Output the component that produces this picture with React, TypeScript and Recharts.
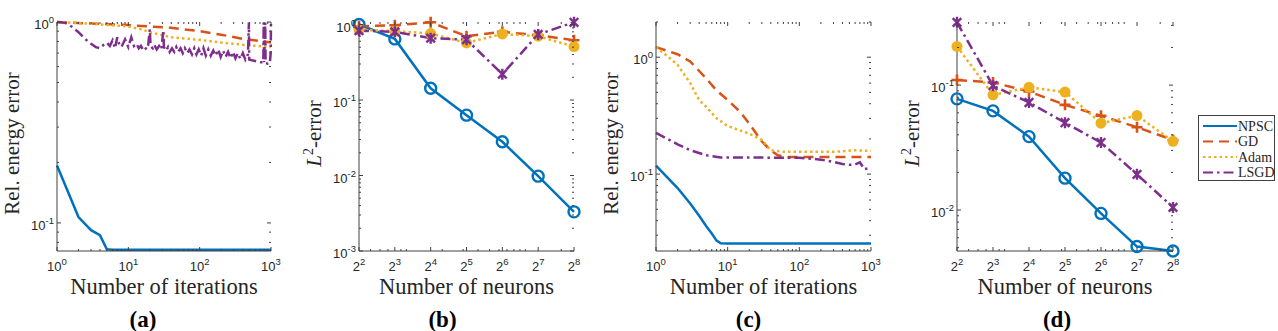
import { LineChart, Line, XAxis, YAxis } from "recharts";

const BLUE = "#0072BD";
const RED = "#D95319";
const YEL = "#EDB120";
const PUR = "#7E2F8E";
const AX = "#404040";
const TXT = "#262626";
const SANS = "'Liberation Sans', Arial, sans-serif";
const SERIF = "'Liberation Serif', 'Times New Roman', serif";

// ---- (a) relative energy error vs iterations ----
const npscAx = [1, 2, 3, 4, 5, 6, 8, 10, 100, 1000];
const npscAy = [0.193, 0.107, 0.092, 0.087, 0.074, 0.0735, 0.0735, 0.0735, 0.0735, 0.0735];
const gdAx = [1, 10, 20, 35, 100, 200, 400, 800, 1000];
const gdAy = [1.0, 0.965, 0.95, 0.94, 0.9, 0.865, 0.825, 0.8, 0.79];
const adamAx = [1, 3, 10, 15, 20, 40, 100, 200, 500, 1000];
const adamAy = [1.0, 0.98, 0.95, 0.92, 0.89, 0.84, 0.815, 0.79, 0.765, 0.75];
const lsgdAx = [1, 1.3, 1.6, 2, 2.5, 3, 3.5, 4, 4.5, 5, 5.5, 6, 6.5, 7, 7.5, 8, 9, 10, 11, 12,
  13, 14, 15, 16, 17, 18, 19, 20, 20.5, 22, 23, 25, 27, 29, 31, 31.5, 34, 36, 38, 41,
  44, 47, 50, 54, 58, 62, 67, 72, 78, 84, 90, 97, 105, 113, 122, 132, 143, 155, 168, 182,
  197, 213, 231, 250, 271, 293, 317, 343, 372, 403, 437, 475, 490, 495, 540, 600, 660, 720, 780, 790,
  800, 830, 840, 900, 960, 990, 1000];
const lsgdAy = [1.0, 0.99, 0.95, 0.89, 0.82, 0.78, 0.75, 0.74, 0.77, 0.79, 0.76, 0.81, 0.74, 0.84, 0.77, 0.75, 0.82, 0.75, 0.84, 0.76,
  0.78, 0.74, 0.76, 0.73, 0.75, 0.73, 0.77, 0.92, 0.76, 0.74, 0.77, 0.73, 0.76, 0.73, 0.91, 0.75, 0.72, 0.75, 0.71, 0.74,
  0.71, 0.75, 0.71, 0.74, 0.7, 0.74, 0.7, 0.73, 0.69, 0.74, 0.69, 0.73, 0.68, 0.74, 0.68, 0.73, 0.68, 0.72, 0.68, 0.73,
  0.67, 0.72, 0.67, 0.71, 0.66, 0.71, 0.66, 0.7, 0.655, 0.7, 0.65, 0.69, 0.995, 0.65, 0.645, 0.64, 0.635, 0.63, 0.63, 0.995,
  0.63, 0.995, 0.625, 0.62, 0.62, 0.7, 0.995];

// ---- (b) L2 error vs neurons ----
const neurons = [4, 8, 16, 32, 64, 128, 256];
const npscB = [1.0, 0.645, 0.143, 0.063, 0.028, 0.0098, 0.0033];
const gdB = [0.95, 0.98, 1.07, 0.7, 0.8, 0.72, 0.62];
const adamB = [0.85, 0.82, 0.76, 0.57, 0.75, 0.7, 0.51];
const lsgdB = [0.83, 0.8, 0.66, 0.63, 0.22, 0.74, 1.07];

// ---- (c) relative energy error vs iterations ----
const npscCx = [1, 2, 3, 4, 5, 6, 7, 8, 10, 100, 1000];
const npscCy = [0.118, 0.076, 0.056, 0.044, 0.036, 0.031, 0.027, 0.0256, 0.0255, 0.0255, 0.0255];
const gdCx = [1, 2, 3, 5, 7, 10, 15, 20, 30, 40, 50, 70, 100, 200, 500, 1000];
const gdCy = [1.22, 1.06, 0.92, 0.66, 0.52, 0.43, 0.34, 0.27, 0.19, 0.16, 0.145, 0.14, 0.14, 0.14, 0.14, 0.14];
const adamCx = [1, 1.5, 2, 3, 4, 5, 7, 10, 20, 30, 40, 60, 100, 300, 600, 1000];
const adamCy = [1.22, 1.0, 0.86, 0.6, 0.43, 0.377, 0.3, 0.258, 0.222, 0.196, 0.16, 0.155, 0.155, 0.155, 0.16, 0.158];
const lsgdCx = [1, 2, 3, 5, 8, 20, 50, 100, 200, 300, 400, 500, 600, 700, 750, 800, 900, 1000];
const lsgdCy = [0.225, 0.18, 0.16, 0.145, 0.139, 0.139, 0.138, 0.138, 0.133, 0.127, 0.122, 0.12, 0.121, 0.126, 0.118, 0.11, 0.112, 0.113];

// ---- (d) L2 error vs neurons ----
const npscD = [0.0776, 0.0622, 0.0387, 0.018, 0.0094, 0.0051, 0.0047];
const gdD = [0.11, 0.105, 0.089, 0.0695, 0.0568, 0.046, 0.0364];
const adamD = [0.204, 0.0836, 0.096, 0.088, 0.0496, 0.057, 0.0355];
const lsgdD = [0.318, 0.099, 0.0726, 0.05, 0.0347, 0.0193, 0.0105];

// ticks
const iterTicks = [1, 2, 3, 4, 5, 6, 7, 8, 9, 10, 20, 30, 40, 50, 60, 70, 80, 90, 100, 200, 300, 400, 500, 600, 700, 800, 900, 1000];
const iterMajors = [1, 10, 100, 1000];
const neurTicks = [4, 5, 6, 7, 8, 9, 10, 16, 20, 30, 32, 40, 50, 60, 64, 70, 80, 90, 100, 128, 200, 256];
const neurMajors = [4, 8, 16, 32, 64, 128, 256];
const yTicksA = [0.08, 0.09, 0.1, 0.2, 0.3, 0.4, 0.5, 0.6, 0.7, 0.8, 0.9, 1];
const yTicksB = [0.001, 0.002, 0.003, 0.004, 0.005, 0.006, 0.007, 0.008, 0.009, 0.01, 0.02, 0.03, 0.04, 0.05, 0.06, 0.07, 0.08, 0.09,
  0.1, 0.2, 0.3, 0.4, 0.5, 0.6, 0.7, 0.8, 0.9, 1];
const yTicksC = [0.03, 0.04, 0.05, 0.06, 0.07, 0.08, 0.09, 0.1, 0.2, 0.3, 0.4, 0.5, 0.6, 0.7, 0.8, 0.9, 1, 2];
const yTicksD = [0.005, 0.006, 0.007, 0.008, 0.009, 0.01, 0.02, 0.03, 0.04, 0.05, 0.06, 0.07, 0.08, 0.09, 0.1, 0.2, 0.3];
const yMajors = [0.001, 0.01, 0.1, 1];

const legendNames = ["NPSC", "GD", "Adam", "LSGD"];

type Pt = { x: number; y: number };
const pts = (xs: number[], ys: number[]): Pt[] => xs.map((x, i) => ({ x, y: ys[i] }));

const styles = [
  { color: BLUE, dash: undefined, mark: "o" },
  { color: RED, dash: "10 6", mark: "+" },
  { color: YEL, dash: "2.5 3", mark: "dot" },
  { color: PUR, dash: "10 4 2.5 4", mark: "*" },
];

function Marker(props: any) {
  const { cx, cy, kind, color } = props;
  if (cx == null || cy == null) return <g />;
  if (kind === "o") return <circle cx={cx} cy={cy} r={5.5} fill="none" stroke={color} strokeWidth={2.4} />;
  if (kind === "dot") return <circle cx={cx} cy={cy} r={5.5} fill={color} />;
  if (kind === "+")
    return <path d={`M${cx - 5.5},${cy}H${cx + 5.5}M${cx},${cy - 5.5}V${cy + 5.5}`} stroke={color} strokeWidth={2.6} />;
  const s = 4.3;
  return (
    <path
      d={`M${cx - s},${cy - s}L${cx + s},${cy + s}M${cx - s},${cy + s}L${cx + s},${cy - s}M${cx},${cy - 5.5}V${cy + 5.5}`}
      stroke={color}
      strokeWidth={2.4}
    />
  );
}

function YTick(props: any) {
  const { x, y, payload, plotW, majors } = props;
  const v = payload.value;
  const major = majors.includes(v);
  const len = major ? 4 : 2;
  return (
    <g>
      <line x1={x} x2={x + len} y1={y} y2={y} stroke={AX} />
      <line x1={x + plotW - len} x2={x + plotW} y1={y} y2={y} stroke={AX} />
      {major && (
        <text x={x - 3} y={y + 7} textAnchor="end" fontFamily={SANS} fontSize={13} fill={TXT}>
          10<tspan dy={-6} fontSize={9.5}>{Math.round(Math.log10(v))}</tspan>
        </text>
      )}
    </g>
  );
}

function XTick(props: any) {
  const { x, y, payload, plotH, majors, base } = props;
  const v = payload.value;
  const major = majors.includes(v);
  const len = major ? 4 : 2;
  const exp = base === "2" ? Math.round(Math.log2(v)) : Math.round(Math.log10(v));
  return (
    <g>
      <line x1={x} x2={x} y1={y} y2={y - len} stroke={AX} />
      <line x1={x} x2={x} y1={y - plotH} y2={y - plotH + len} stroke={AX} />
      {major && (
        <text x={x} y={y + 20} textAnchor="middle" fontFamily={SANS} fontSize={13} fill={TXT}>
          {base}<tspan dy={-6} fontSize={9.5}>{exp}</tspan>
        </text>
      )}
    </g>
  );
}

function YLabel(props: any) {
  const { viewBox, text, dy } = props;
  const cx = viewBox.x + viewBox.width - 38;
  const cy = viewBox.y + viewBox.height / 2 + dy;
  return (
    <text transform={`translate(${cx},${cy}) rotate(-90)`} textAnchor="middle" fontFamily={SERIF} fontSize={21} fill={TXT}>
      {text === "L2" ? (
        <>
          <tspan fontStyle="italic">L</tspan>
          <tspan dy={-8} fontSize={14}>2</tspan>
          <tspan dy={8}>-error</tspan>
        </>
      ) : (
        text
      )}
    </text>
  );
}

function XLabel(props: any) {
  const { viewBox, text, letter, letterDx } = props;
  const cx = viewBox.x + viewBox.width / 2;
  const y0 = viewBox.y;
  return (
    <g>
      <text x={cx} y={y0 + 43} textAnchor="middle" fontFamily={SERIF} fontSize={22.5} fill={TXT}>
        {text}
      </text>
      <text x={cx + letterDx} y={y0 + 76} textAnchor="middle" fontFamily={SERIF} fontWeight="bold" fontSize={23} fill="#000">
        {letter}
      </text>
    </g>
  );
}

type PanelProps = {
  left: number;
  plotW: number;
  xDom: number[];
  yDom: number[];
  xTicks: number[];
  xMajors: number[];
  xBase: string;
  yTicks: number[];
  series: Pt[][];
  markers: boolean;
  ylabel: string;
  ylabelDy: number;
  xlabel: string;
  letter: string;
  letterDx: number;
};

function Panel(p: PanelProps) {
  const plotH = 229;
  return (
    <div style={{ position: "absolute", left: p.left - 60, top: 0 }}>
      <LineChart width={60 + p.plotW + 10} height={331} margin={{ top: 22, right: 10, bottom: 0, left: 0 }}>
        <XAxis
          dataKey="x"
          type="number"
          scale="log"
          domain={p.xDom}
          ticks={p.xTicks}
          interval={0}
          tickSize={0}
          tickMargin={0}
          tickLine={false}
          height={80}
          stroke={AX}
          tick={(t: any) => <XTick {...t} plotH={plotH} majors={p.xMajors} base={p.xBase} />}
          label={<XLabel text={p.xlabel} letter={p.letter} letterDx={p.letterDx} />}
        />
        <YAxis
          type="number"
          scale="log"
          domain={p.yDom}
          ticks={p.yTicks}
          interval={0}
          tickSize={0}
          tickMargin={0}
          tickLine={false}
          width={60}
          stroke={AX}
          tick={(t: any) => <YTick {...t} plotW={p.plotW} majors={yMajors} />}
          label={<YLabel text={p.ylabel} dy={p.ylabelDy} />}
        />
        <XAxis xAxisId="top" orientation="top" type="number" scale="log" domain={p.xDom} allowDataOverflow height={0} tick={false} tickLine={false} stroke={AX} />
        <YAxis yAxisId="right" orientation="right" type="number" scale="log" domain={p.yDom} allowDataOverflow width={0} tick={false} tickLine={false} stroke={AX} />
        {p.series.map((data, i) => (
          <Line
            key={legendNames[i]}
            name={legendNames[i]}
            data={data}
            dataKey="y"
            type="linear"
            stroke={styles[i].color}
            strokeWidth={2.5}
            strokeDasharray={styles[i].dash}
            dot={
              p.markers
                ? (d: any) => <Marker key={`${i}-${d.index}`} cx={d.cx} cy={d.cy} kind={styles[i].mark} color={styles[i].color} />
                : false
            }
            activeDot={false}
            isAnimationActive={false}
          />
        ))}
      </LineChart>
    </div>
  );
}

function LegendBox() {
  return (
    <div
      style={{
        position: "absolute",
        left: 1198,
        top: 115,
        width: 77,
        height: 66,
        border: `1px solid ${AX}`,
        background: "#fff",
        boxSizing: "border-box",
      }}
    >
      <svg width={77} height={66}>
        {legendNames.map((n, i) => {
          const y = 10 + i * 15.5;
          return (
            <g key={n}>
              <line x1={4} x2={38} y1={y} y2={y} stroke={styles[i].color} strokeWidth={2} strokeDasharray={styles[i].dash} />
              <text x={39} y={y + 4.5} fontFamily={SERIF} fontSize={14} fill={TXT}>
                {n}
              </text>
            </g>
          );
        })}
      </svg>
    </div>
  );
}

export default function App() {
  return (
    <div style={{ position: "absolute", left: 0, top: 0, width: 1278, height: 331, background: "#fff", overflow: "hidden" }}>
      <Panel
        left={57}
        plotW={214}
        xDom={[1, 1000]}
        yDom={[0.0725, 1]}
        xTicks={iterTicks}
        xMajors={iterMajors}
        xBase="10"
        yTicks={yTicksA}
        series={[pts(npscAx, npscAy), pts(gdAx, gdAy), pts(adamAx, adamAy), pts(lsgdAx, lsgdAy)]}
        markers={false}
        ylabel="Rel. energy error"
        ylabelDy={7}
        xlabel="Number of iterations"
        letter="(a)"
        letterDx={-21}
      />
      <Panel
        left={359}
        plotW={215}
        xDom={[4, 256]}
        yDom={[0.001, 1.08]}
        xTicks={neurTicks}
        xMajors={neurMajors}
        xBase="2"
        yTicks={yTicksB}
        series={[pts(neurons, npscB), pts(neurons, gdB), pts(neurons, adamB), pts(neurons, lsgdB)]}
        markers={true}
        ylabel="L2"
        ylabelDy={-3}
        xlabel="Number of neurons"
        letter="(b)"
        letterDx={-24}
      />
      <Panel
        left={656}
        plotW={215}
        xDom={[1, 1000]}
        yDom={[0.022, 2]}
        xTicks={iterTicks}
        xMajors={iterMajors}
        xBase="10"
        yTicks={yTicksC}
        series={[pts(npscCx, npscCy), pts(gdCx, gdCy), pts(adamCx, adamCy), pts(lsgdCx, lsgdCy)]}
        markers={false}
        ylabel="Rel. energy error"
        ylabelDy={7}
        xlabel="Number of iterations"
        letter="(c)"
        letterDx={-15}
      />
      <Panel
        left={957}
        plotW={216}
        xDom={[4, 256]}
        yDom={[0.0047, 0.32]}
        xTicks={neurTicks}
        xMajors={neurMajors}
        xBase="2"
        yTicks={yTicksD}
        series={[pts(neurons, npscD), pts(neurons, gdD), pts(neurons, adamD), pts(neurons, lsgdD)]}
        markers={true}
        ylabel="L2"
        ylabelDy={-3}
        xlabel="Number of neurons"
        letter="(d)"
        letterDx={-8}
      />
      <LegendBox />
    </div>
  );
}
